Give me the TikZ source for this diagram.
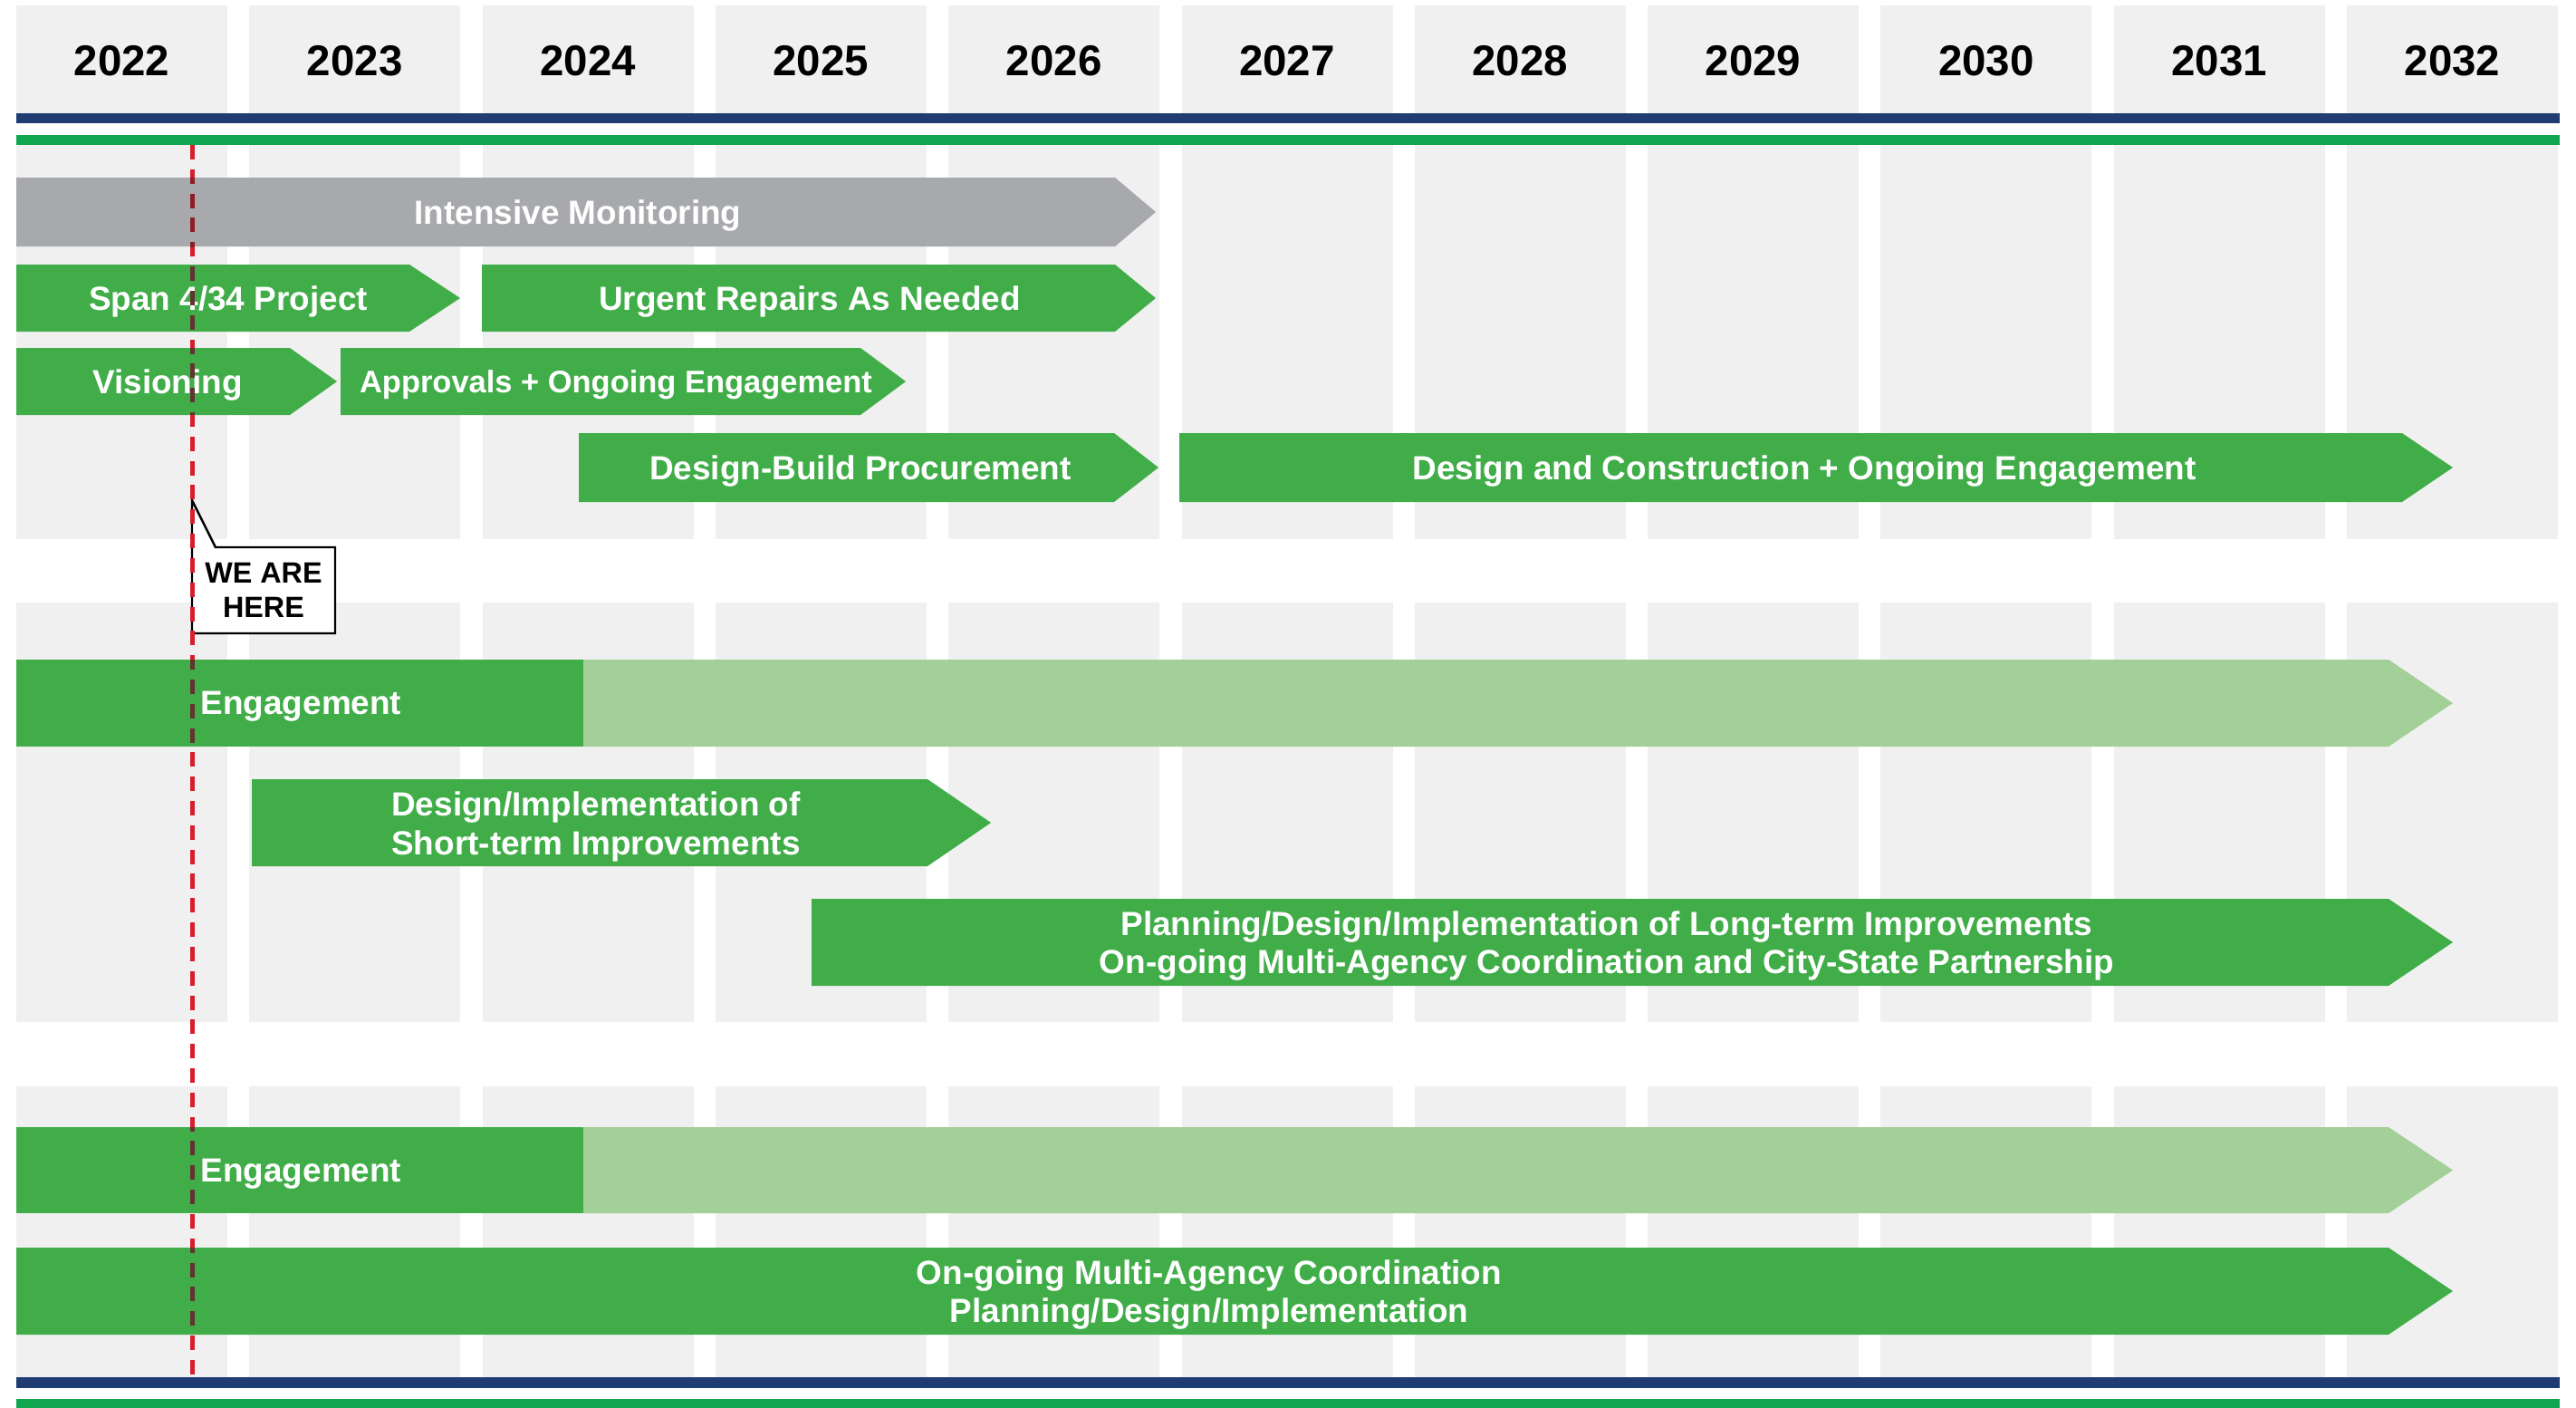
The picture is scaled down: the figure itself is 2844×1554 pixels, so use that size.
\documentclass[tikz,border=0pt]{standalone}
\usepackage{fontspec}
\setmainfont{Liberation Sans}
\usepackage{xcolor}
\usepackage{tikz}
\usetikzlibrary{positioning,calc}

\definecolor{colgray}{HTML}{F0F0F0}
\definecolor{navy}{HTML}{1F3D72}
\definecolor{linegreen}{HTML}{10A650}
\definecolor{bargreen}{HTML}{41AD49}
\definecolor{palegreen}{HTML}{A3CF98}
\definecolor{bargray}{HTML}{A7A9AC}
\definecolor{nowred}{HTML}{D71E2D}
\definecolor{nowdark}{HTML}{623431}
\definecolor{nowgray}{HTML}{8E1E26}

% #1 name, #2 colour, #3 left, #4 body end, #5 tip, #6 top, #7 bottom, #8 text x, #9 text
\newcommand{\taskbar}[9]{%
    \fill[#2] (#3,#6) -- (#4,#6) -- (#5,{(#6+#7)/2}) -- (#4,#7) -- (#3,#7) -- cycle;
    \node[bartext] (#1) at (#8,{(#6+#7)/2+4}) {#9};
}

\begin{document}
\begin{tikzpicture}[x=0.01cm, y=-0.01cm,
    year/.style={font=\fontsize{13.5}{16}\selectfont\bfseries, inner sep=0pt},
    bartext/.style={font=\fontsize{10.5}{12.2}\selectfont\bfseries, text=white, align=center, inner sep=0pt},
    herebox/.style={font=\fontsize{9.2}{10.8}\selectfont\bfseries, align=center, inner sep=0pt},
    nowline/.style={line width=0.05cm, dash pattern=on 0.16cm off 0.108cm}
]
    \useasboundingbox (0,0) rectangle (2844,1554);

    % Year columns
    \foreach \i/\yr in {0/2022, 1/2023, 2/2024, 3/2025, 4/2026, 5/2027, 6/2028, 7/2029, 8/2030, 9/2031, 10/2032} {
        \pgfmathsetmacro{\xl}{18+257.3*\i}
        \pgfmathsetmacro{\xr}{\xl+233}
        \fill[colgray] (\xl,6) rectangle (\xr,125);
        \fill[colgray] (\xl,160) rectangle (\xr,595);
        \fill[colgray] (\xl,665) rectangle (\xr,1128);
        \fill[colgray] (\xl,1199) rectangle (\xr,1520);
        \node[year] (yr\yr) at (\xl+116.5,67) {\yr};
    }

    % Rules top and bottom
    \fill[navy] (18,125) rectangle (2826,136);
    \fill[linegreen] (18,149) rectangle (2826,160);
    \fill[navy] (18,1520) rectangle (2826,1532);
    \fill[linegreen] (18,1544) rectangle (2826,1554);

    % Task bars
    \taskbar{monitor}{bargray}{18}{1231}{1276}{196}{272}{638}{Intensive Monitoring}
    \taskbar{span}{bargreen}{18}{452}{508}{292}{366}{252}{Span 4/34 Project}
    \taskbar{repairs}{bargreen}{532}{1231}{1276}{292}{366}{894}{Urgent Repairs As Needed}
    \taskbar{vision}{bargreen}{18}{320}{372}{384}{458}{185}{Visioning}
    \taskbar{approve}{bargreen}{376}{950}{1000}{384}{458}{680}{\fontsize{9.8}{12}\selectfont Approvals + Ongoing Engagement}
    \taskbar{procure}{bargreen}{639}{1230}{1279}{478}{554}{950}{Design-Build Procurement}
    \taskbar{construct}{bargreen}{1302}{2652}{2708}{478}{554}{1992}{Design and Construction + Ongoing Engagement}
    \taskbar{shortterm}{bargreen}{278}{1024}{1094}{860}{956}{658}{Design/Implementation of\\Short-term Improvements}
    \taskbar{longterm}{bargreen}{896}{2637}{2708}{992}{1088}{1774}{Planning/Design/Implementation of Long-term Improvements\\On-going Multi-Agency Coordination and City-State Partnership}
    \taskbar{coord}{bargreen}{18}{2637}{2708}{1377}{1473}{1335}{On-going Multi-Agency Coordination\\Planning/Design/Implementation}

    % Engagement bars
    \foreach \nm/\ya/\yb in {engage/728/824, engagetwo/1244/1339} {
        \fill[palegreen] (644,\ya) -- (2637,\ya) -- (2708,{(\ya+\yb)/2}) -- (2637,\yb) -- (644,\yb) -- cycle;
        \fill[bargreen] (18,\ya) rectangle (644,\yb);
        \node[bartext, anchor=west] (\nm) at (221,{(\ya+\yb)/2+4}) {Engagement};
    }

    % We are here
    \coordinate (tip) at (212,552);
    \coordinate (boxnw) at (212,604);
    \coordinate (boxse) at (370,699);
    \draw[fill=white, line width=0.7pt] (tip) -- (238,604) -- (boxse |- boxnw) -- (boxse) -- (boxnw |- boxse) -- cycle;
    \node[herebox] (here) at ($(boxnw)!0.5!(boxse)$) {WE ARE\\HERE};

    % Today line
    \coordinate (nowtop) at (212,160);
    \coordinate (nowbot) at (212,1520);
    \draw[nowred, nowline] (nowtop) -- (nowbot);
    \begin{scope}
        \clip (190,196) rectangle (235,272);
        \draw[nowgray, nowline] (nowtop) -- (nowbot);
    \end{scope}
    \begin{scope}
        \clip (190,292) rectangle (235,366) (190,384) rectangle (235,458) (190,728) rectangle (235,824)
              (190,1244) rectangle (235,1339) (190,1377) rectangle (235,1473);
        \draw[nowdark, nowline] (nowtop) -- (nowbot);
    \end{scope}
\end{tikzpicture}
\end{document}
